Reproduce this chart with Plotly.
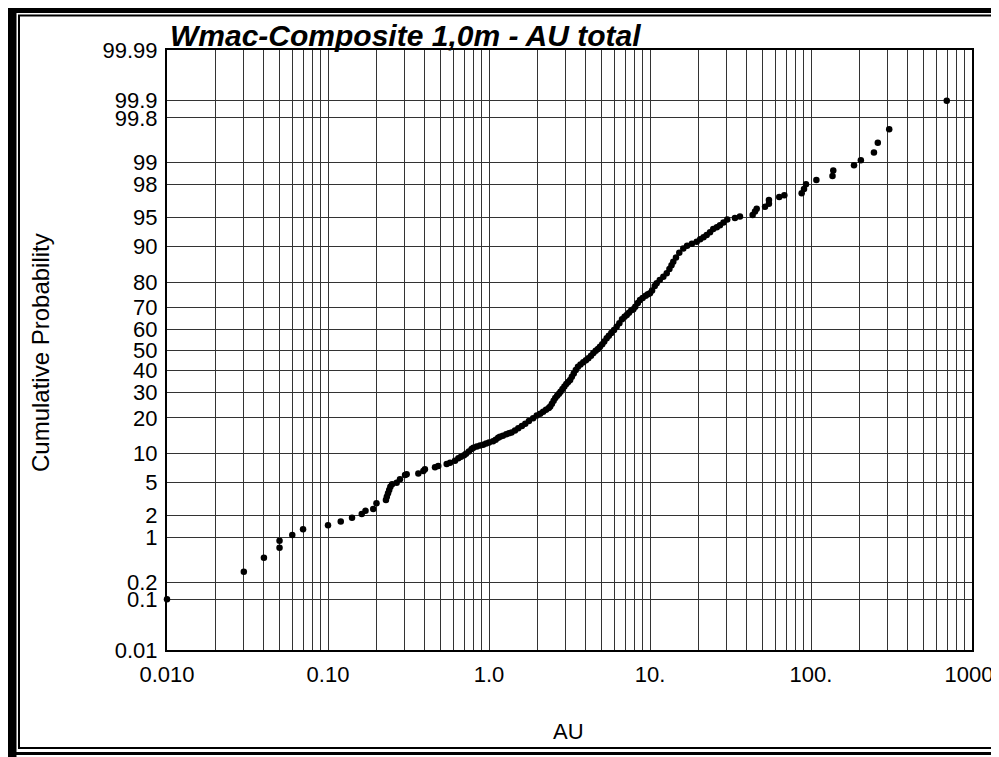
from statistics import NormalDist

import plotly.graph_objects as go

# AU values and their cumulative probability (%)
au_values = [
    0.01, 0.03, 0.04, 0.05, 0.05, 0.06, 0.07, 0.10, 0.12, 0.141, 0.162, 0.171, 0.191, 0.200,
    0.229, 0.232, 0.236, 0.240, 0.244, 0.250, 0.267, 0.280, 0.301, 0.308, 0.364, 0.391, 0.40,
    0.462, 0.484, 0.546, 0.573, 0.615, 0.645,
    0.67, 0.70, 0.72, 0.75, 0.78, 0.80, 0.84, 0.88, 0.92, 0.96, 1.00, 1.06, 1.10, 1.14, 1.17,
    1.22, 1.28, 1.33, 1.38, 1.45, 1.52, 1.60, 1.68, 1.77, 1.88, 1.98, 2.08, 2.17, 2.26, 2.35,
    2.40, 2.46, 2.52, 2.58, 2.65, 2.72, 2.78, 2.86, 2.94, 3.02, 3.10, 3.19, 3.27, 3.36, 3.46,
    3.57, 3.70, 3.85, 4.00, 4.14, 4.30, 4.45, 4.60, 4.75, 4.89, 5.05, 5.20, 5.38, 5.55, 5.75,
    5.98, 6.21, 6.45, 6.70, 6.95, 7.17, 7.40, 7.65, 7.88, 8.10, 8.40, 8.67, 9.00, 9.40, 9.70,
    10.0, 10.3, 10.7, 11.0, 11.5, 12.1, 12.7, 13.2, 13.6, 13.95, 14.5, 15.2, 16.1, 17.0, 18.2,
    19.5, 20.5, 21.5, 22.5, 23.6, 24.7, 26.0, 27.2, 28.6, 30.2, 33.7, 36.2,
    43.4, 44.9, 46.0, 51.8, 54.8, 54.8, 63.5, 68.3, 87.5, 90.5, 93.1, 108, 136, 137.5,
    185, 204, 246, 260, 306, 697,
]
cum_prob = [
    0.1, 0.30, 0.50, 0.71, 0.90, 1.09, 1.31, 1.49, 1.68, 1.88, 2.10, 2.32, 2.44, 2.87,
    3.15, 3.45, 3.78, 4.14, 4.51, 4.80, 5.0, 5.45, 6.06, 6.17, 6.3, 6.68, 6.96,
    7.30, 7.53, 7.88, 8.11, 8.50, 8.97,
    9.3, 9.6, 9.9, 10.4, 11.0, 11.3, 11.6, 11.8, 12.0, 12.3, 12.6, 12.9, 13.3, 13.8, 14.1,
    14.4, 14.8, 15.1, 15.3, 15.9, 16.6, 17.3, 18.0, 18.9, 19.9, 20.8, 21.5, 22.2, 22.9, 23.6,
    24.2, 25.3, 26.5, 27.6, 28.5, 29.4, 30.2, 31.4, 32.6, 33.7, 34.6, 35.5, 37.0, 38.5, 40.2,
    41.8, 42.9, 44.0, 45.0, 45.9, 47.2, 48.5, 49.6, 50.5, 51.6, 52.8, 54.2, 55.8, 57.0, 58.4,
    59.8, 61.4, 63.0, 64.8, 66.0, 66.8, 67.8, 68.9, 69.3, 70.4, 72.0, 73.2, 74.0, 74.9, 75.5,
    75.9, 77.0, 78.6, 79.6, 80.7, 81.8, 82.9, 84.2, 85.3, 86.3, 87.4, 88.6, 89.6, 90.2, 90.6,
    91.0, 91.5, 91.9, 92.3, 92.8, 93.3, 93.6, 93.9, 94.3, 94.7, 94.9, 95.1,
    95.3, 95.7, 96.0, 96.2, 96.5, 96.85, 97.1, 97.25, 97.4, 97.7, 98.0, 98.25, 98.45, 98.7,
    98.9, 99.07, 99.28, 99.49, 99.69, 99.9,
]

prob_ticks = [0.01, 0.1, 0.2, 1, 2, 5, 10, 20, 30, 40, 50, 60, 70, 80, 90, 95, 98, 99, 99.8, 99.9, 99.99]
prob_labels = ['0.01', '0.1', '0.2', '1', '2', '5', '10', '20', '30', '40', '50', '60', '70',
               '80', '90', '95', '98', '99', '99.8', '99.9', '99.99']
decade_labels = {0.01: '0.010', 0.1: '0.10', 1: '1.0', 10: '10.', 100: '100.', 1000: '1000.'}

FONT = 'Liberation Sans, Arial, sans-serif'
PAGE_OFFSET = 8  # the page body margin pushes the figure 8px right and down
W, H = 999 - PAGE_OFFSET, 757 - PAGE_OFFSET
L, R, T, B = 167, 972, 50, 650  # plot area in screen pixels

nd = NormalDist()


def z(p):
    return nd.inv_cdf(p / 100.0)


def px(x):
    return (x - L) / (R - L)


def py(y):
    return (B - y) / (B - T)


x_ticks = []
for k in range(-2, 3):
    for m in range(1, 10):
        x_ticks.append(round(m * 10 ** k, 6))
x_ticks.append(1000)
x_text = [decade_labels.get(v, '') for v in x_ticks]

fig = go.Figure(go.Scatter(
    x=au_values,
    y=[z(p) for p in cum_prob],
    mode='markers',
    marker={'color': 'black', 'size': 6.5},
    cliponaxis=False,
    hoverinfo='skip',
))

fig.update_layout(
    width=W,
    height=H,
    margin={'l': L - PAGE_OFFSET, 'r': W - (R - PAGE_OFFSET), 't': T - PAGE_OFFSET,
            'b': H - (B - PAGE_OFFSET), 'autoexpand': False},
    paper_bgcolor='white',
    plot_bgcolor='white',
    showlegend=False,
    font={'family': FONT, 'color': 'black'},
    xaxis={
        'type': 'log',
        'range': [-2, 3],
        'tickvals': x_ticks,
        'ticktext': x_text,
        'tickfont': {'size': 22},
        'ticklabeloverflow': 'allow',
        'automargin': False,
        'showgrid': True,
        'gridcolor': '#333333',
        'gridwidth': 1,
        'showline': True,
        'linecolor': 'black',
        'linewidth': 2,
        'mirror': True,
        'ticks': '',
        'ticklabelstandoff': 4,
        'zeroline': False,
    },
    yaxis={
        'range': [z(0.01), z(99.99)],
        'tickvals': [z(p) for p in prob_ticks],
        'ticktext': prob_labels,
        'tickfont': {'size': 22},
        'ticklabeloverflow': 'allow',
        'automargin': False,
        'showgrid': True,
        'gridcolor': '#333333',
        'gridwidth': 1,
        'showline': True,
        'linecolor': 'black',
        'linewidth': 2,
        'mirror': True,
        'ticks': '',
        'ticklabelstandoff': 3,
        'zeroline': False,
    },
    annotations=[
        dict(text='<b><i>Wmac-Composite 1,0m - AU total</i></b>', xref='paper', yref='paper',
             x=px(168), y=py(35), xanchor='left', yanchor='middle', showarrow=False,
             font={'size': 30, 'family': FONT}),
        dict(text='Cumulative Probability', xref='paper', yref='paper', textangle=-90,
             x=px(40), y=py(352), xanchor='center', yanchor='middle', showarrow=False,
             font={'size': 24, 'family': FONT}),
        dict(text='AU', xref='paper', yref='paper',
             x=px(568), y=py(731), xanchor='center', yanchor='middle', showarrow=False,
             font={'size': 22, 'family': FONT}),
    ],
    shapes=[
        # heavy frame on top and left
        dict(type='rect', xref='paper', yref='paper', x0=px(8), x1=px(999), y0=py(5), y1=py(13),
             fillcolor='black', line={'width': 0}, layer='above'),
        dict(type='rect', xref='paper', yref='paper', x0=px(8), x1=px(16.5), y0=py(5), y1=py(757),
             fillcolor='black', line={'width': 0}, layer='above'),
        # outer thin right and bottom edges
        dict(type='line', xref='paper', yref='paper', x0=px(998), x1=px(998), y0=py(5), y1=py(755),
             line={'color': 'black', 'width': 2}, layer='above'),
        dict(type='line', xref='paper', yref='paper', x0=px(8), x1=px(999), y0=py(753.5), y1=py(753.5),
             line={'color': 'black', 'width': 3}, layer='above'),
        # inner frame
        dict(type='rect', xref='paper', yref='paper', x0=px(19), x1=px(995.5), y0=py(15.5), y1=py(748),
             line={'color': 'black', 'width': 2}, layer='above'),
    ],
)

fig.write_html('out.html')
